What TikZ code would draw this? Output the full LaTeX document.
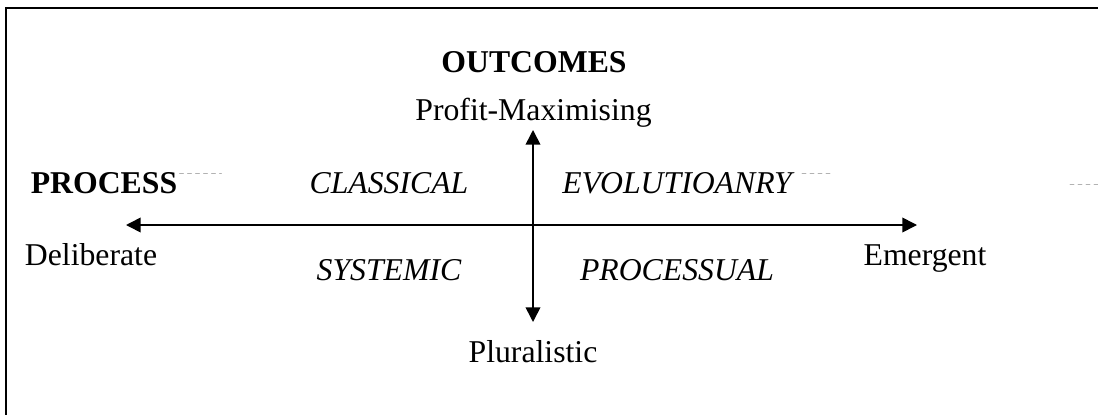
\documentclass[tikz,border=0pt]{standalone}
\usepackage{fontspec}
\setmainfont{Liberation Serif}
\usepackage{tikz}
\usetikzlibrary{arrows.meta}
\usepackage{xcolor}

\begin{document}
\begin{tikzpicture}[x=0.75pt,y=-0.75pt,>={Triangle[length=11pt,width=11pt]},line cap=round,
  font=\fontsize{23.8}{28}\selectfont,
  lbl/.style={anchor=base,inner sep=0pt},
  head/.style={lbl,font=\fontsize{23.8}{28}\selectfont\bfseries},
  quad/.style={lbl,font=\fontsize{23.8}{28}\selectfont\itshape},
  axis/.style={<->,line width=1.2pt},
  faint/.style={gray!60,dashed,line width=0.5pt}]
\useasboundingbox (0,0) rectangle (1098,414);
% frame (cut off right and bottom)
\draw[line width=1.6pt,line cap=butt] (6,416) -- (6,8) -- (1100,8);
% axis ends
\coordinate (north) at (533,130);
\coordinate (south) at (533,322);
\coordinate (west) at (126,225);
\coordinate (east) at (917,225);
% labels
\node[head] (outcomes) at (534,72) {OUTCOMES};
\node[lbl] (profit) at (533.5,120) {Profit-Maximising};
\node[lbl] (plural) at (533,362) {Pluralistic};
\node[head] (process) at (104,193) {PROCESS};
\node[lbl] (delib) at (91,265) {Deliberate};
\node[lbl] (emerg) at (925,265) {Emergent};
\node[quad] (classical) at (389,193) {CLASSICAL};
\node[quad] (evol) at (677,193) {EVOLUTIOANRY};
\node[quad] (systemic) at (389,280) {SYSTEMIC};
\node[quad] (processual) at (677,280) {PROCESSUAL};
% axes
\draw[axis] (west) -- (east);
\draw[axis] (north) -- (south);
% faint scan marks
\draw[faint] (process.east) ++(2,-9) -- ++(42,0);
\draw[faint] (evol.east) ++(10,-9) -- ++(28,0);
\draw[faint] (1070,184) -- (1098,184);
\end{tikzpicture}
\end{document}
